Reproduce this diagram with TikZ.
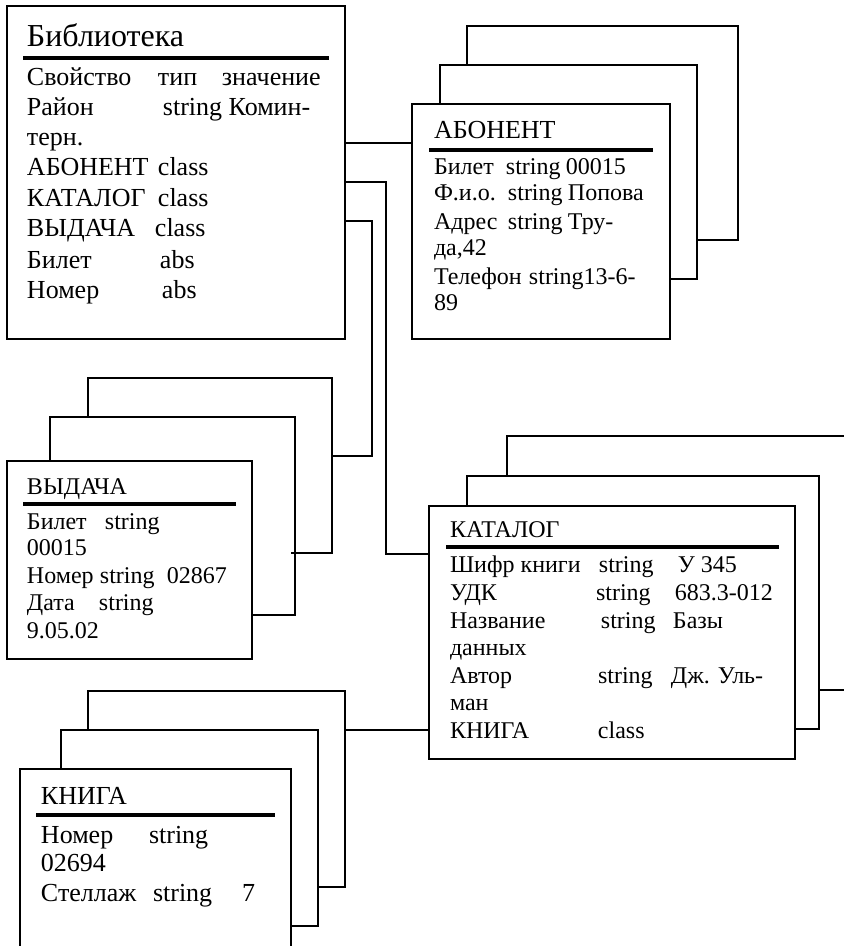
\documentclass[tikz,border=0pt]{standalone}
\usepackage{fontspec}
\setmainfont{Liberation Serif}
\usetikzlibrary{calc}
\begin{document}
\begin{tikzpicture}[x=1pt,y=-1pt,
  frame/.style={draw,line width=2pt,inner sep=0pt,outer sep=0pt,anchor=north west,fill=white},
  stack/.style={line width=2pt,line join=miter},
  link/.style={line width=2pt},
  rule/.style={line width=3.8pt},
  txt/.style={anchor=base west,inner sep=0pt,outer sep=0pt},
  big/.style={txt,font=\fontsize{26}{30}\selectfont},
  small/.style={txt,font=\fontsize{24}{28}\selectfont},
  head/.style={txt,font=\fontsize{32}{36}\selectfont}]
\clip (0,0) rectangle (844,946);
\fill[white] (0,0) rectangle (844,946);

% ---------- stacked frames behind the class boxes ----------
\draw[stack] (467,65) -- (467,26) -- (738,26) -- (738,240) -- (697,240);
\draw[stack] (440,104) -- (440,65) -- (697,65) -- (697,279) -- (670,279);

\draw[stack] (88,417) -- (88,378) -- (332,378) -- (332,553) -- (291,553);
\draw[stack] (50,461) -- (50,417) -- (295,417) -- (295,615) -- (252,615);

\draw[stack] (507,476) -- (507,436) -- (860,436);
\draw[stack] (819,690) -- (860,690);
\draw[stack] (467,515) -- (467,476) -- (819,476) -- (819,729) -- (792,729);

\draw[stack] (88,730) -- (88,691) -- (345,691) -- (345,887) -- (318,887);
\draw[stack] (61,769) -- (61,730) -- (318,730) -- (318,926) -- (291,926);

% ---------- main boxes ----------
\node[frame,minimum width=338pt,minimum height=333pt] (lib) at (7,6) {};
\node[frame,minimum width=258pt,minimum height=235pt] (abon) at (412,104) {};
\node[frame,minimum width=245pt,minimum height=198pt] (vyd) at (7,461) {};
\node[frame,minimum width=366pt,minimum height=253pt] (kat) at (429,506) {};
\node[frame,minimum width=271pt,minimum height=200pt] (kniga) at (20,769) {};

% ---------- connectors ----------
\coordinate (yA) at (0,143);
\coordinate (yK) at (0,182);
\coordinate (yV) at (0,221);
\coordinate (kTurn) at (386,554);
\coordinate (vTurn) at (372,456);
\coordinate (vEnd) at (332,456);
\coordinate (yB) at (0,730);
\coordinate (bEnd) at (345,730);
\draw[link] (lib.east |- yA) -- (abon.west |- yA);
\draw[link] (lib.east |- yK) -| (kTurn) -- (kat.west |- kTurn);
\draw[link] (lib.east |- yV) -| (vTurn) -- (vEnd);
\draw[link] (kat.west |- yB) -- (bEnd);

% ---------- Библиотека ----------
\node[head] (libT) at (27,46) {Библиотека};
\draw[rule] (23,58) -- (329,58);
\node[big] (l1) at (27,85) {\makebox[131pt][l]{Свойство}\makebox[64pt][l]{тип}значение};
\node[big] (l2) at (27,115) {\makebox[136pt][l]{Район}string Комин-};
\node[big] (l3) at (27,145) {терн.};
\node[big] (l4) at (27,175) {\makebox[131pt][l]{АБОНЕНТ}class};
\node[big] (l5) at (27,206) {\makebox[131pt][l]{КАТАЛОГ}class};
\node[big] (l6) at (27,236) {\makebox[128pt][l]{ВЫДАЧА}class};
\node[big] (l7) at (27,268) {\makebox[133pt][l]{Билет}abs};
\node[big] (l8) at (27,298) {\makebox[135pt][l]{Номер}abs};

% ---------- АБОНЕНТ ----------
\node[big] (aT) at (434,138) {АБОНЕНТ};
\draw[rule] (429,150) -- (653,150);
\node[small] (a1) at (434,174) {\makebox[72pt][l]{Билет}\makebox[60pt][l]{string}00015};
\node[small] (a2) at (434,200.5) {\makebox[74pt][l]{Ф.и.о.}\makebox[60pt][l]{string}Попова};
\node[small] (a3) at (434,229) {\makebox[74pt][l]{Адрес}\makebox[60pt][l]{string}Тру-};
\node[small] (a4) at (434,255.5) {да,42};
\node[small] (a5) at (434,284) {\makebox[95pt][l]{Телефон}string13-6-};
\node[small] (a6) at (434,310.5) {89};

% ---------- ВЫДАЧА ----------
\node[small] (vT) at (27,494) {ВЫДАЧА};
\draw[rule] (23,504) -- (236,504);
\node[small] (v1) at (27,529) {\makebox[78pt][l]{Билет}string};
\node[small] (v2) at (27,555) {00015};
\node[small] (v3) at (27,583) {\makebox[73pt][l]{Номер}\makebox[67pt][l]{string}02867};
\node[small] (v4) at (27,610) {\makebox[72pt][l]{Дата}string};
\node[small] (v5) at (27,638) {9.05.02};

% ---------- КАТАЛОГ ----------
\node[small] (kT) at (450,537) {КАТАЛОГ};
\draw[rule] (446,547) -- (779,547);
\node[small] (k1) at (450,572) {\makebox[149pt][l]{Шифр книги}\makebox[79pt][l]{string}У 345};
\node[small] (k2) at (450,600) {\makebox[146pt][l]{УДК}\makebox[79pt][l]{string}683.3-012};
\node[small] (k3) at (450,628) {\makebox[151pt][l]{Название}\makebox[72pt][l]{string}Базы};
\node[small] (k4) at (450,655) {данных};
\node[small] (k5) at (450,683) {\makebox[148pt][l]{Автор}\makebox[73pt][l]{string}Дж. Уль-};
\node[small] (k6) at (450,710) {ман};
\node[small] (k7) at (450,738) {\makebox[148pt][l]{КНИГА}class};

% ---------- КНИГА ----------
\node[big] (bT) at (41,804) {КНИГА};
\draw[rule] (36,815) -- (275,815);
\node[big] (b1) at (41,843) {\makebox[108pt][l]{Номер}string};
\node[big] (b2) at (41,871) {02694};
\node[big] (b3) at (41,901) {\makebox[112pt][l]{Стеллаж}\makebox[89pt][l]{string}7};
\end{tikzpicture}
\end{document}
